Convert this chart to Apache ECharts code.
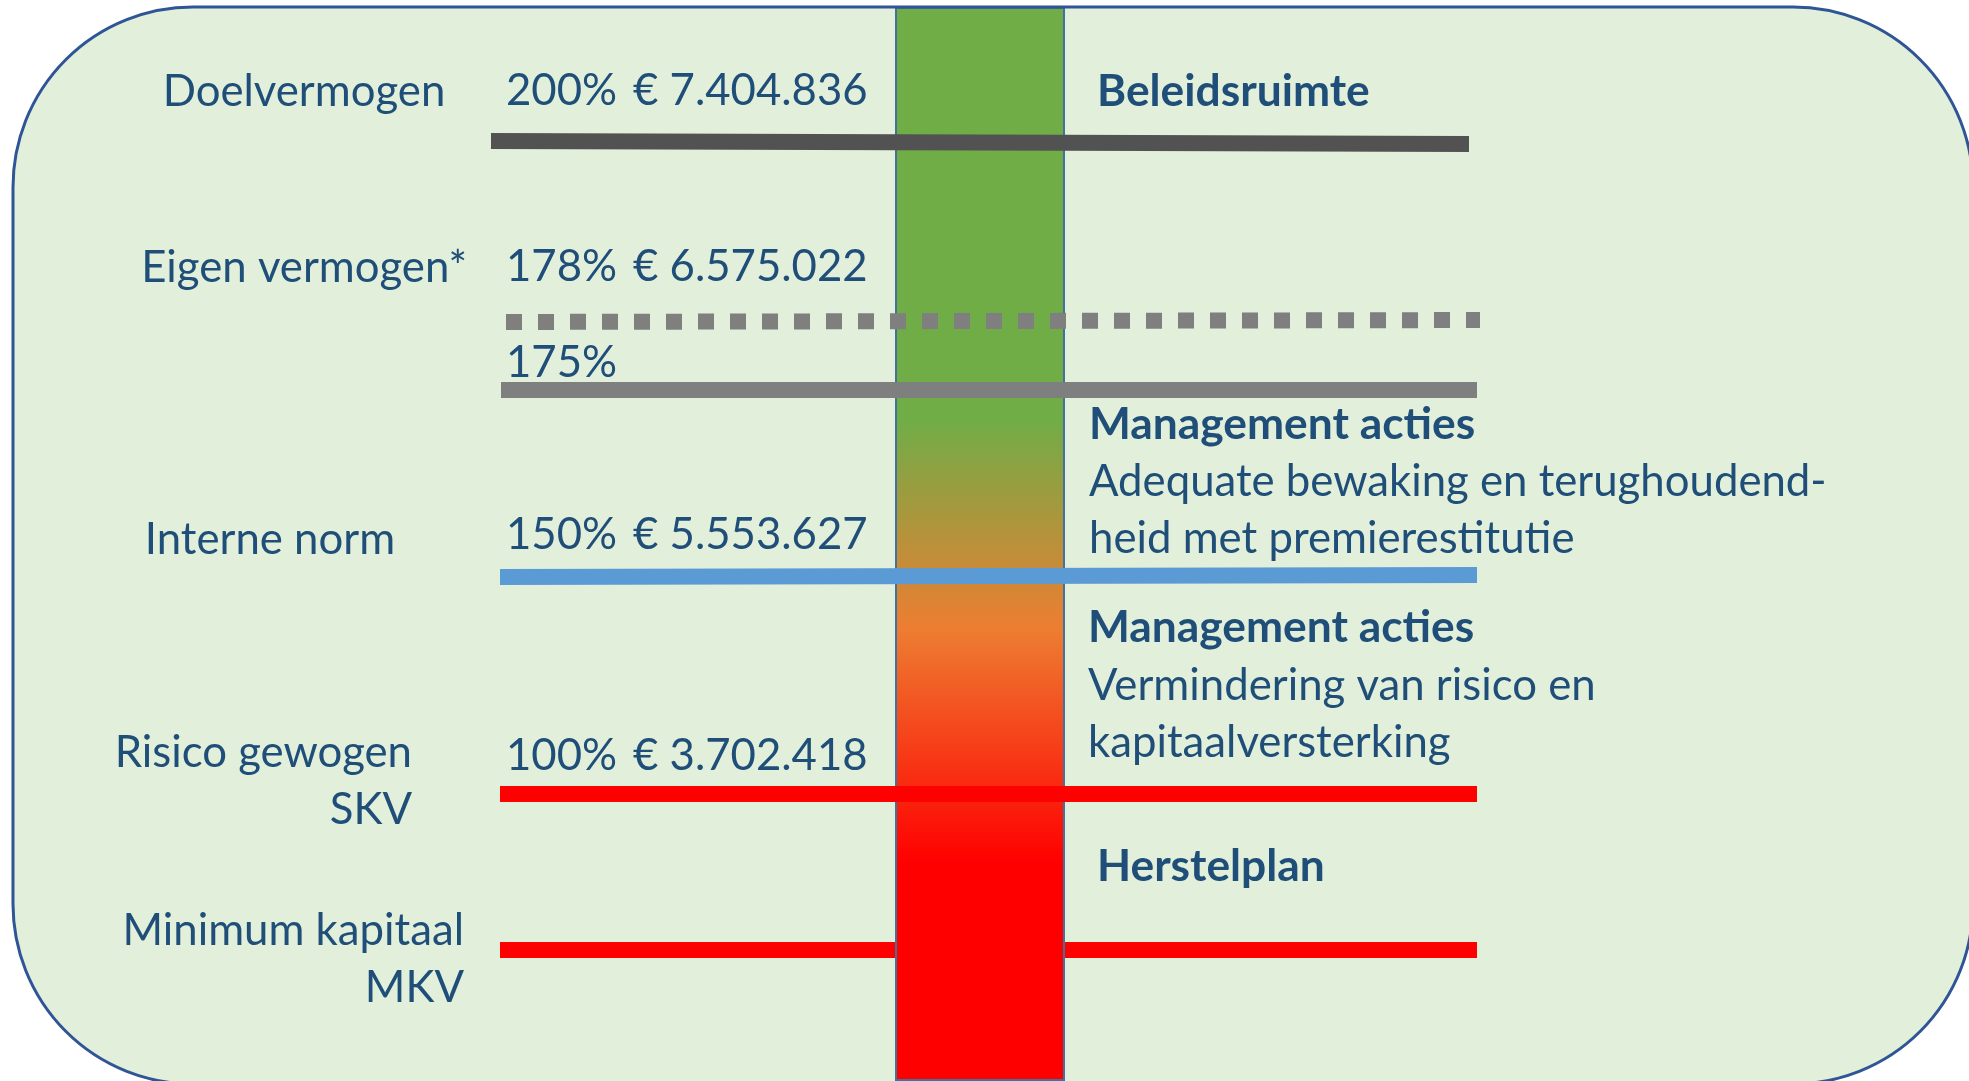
<!DOCTYPE html>
<html>
<head>
<meta charset="utf-8">
<script src="https://cdn.jsdelivr.net/npm/echarts@6/dist/echarts.min.js"></script>
<style>
  html, body { margin: 0; padding: 0; background: #fff; }
  #main { width: 1969px; height: 1081px; }
</style>
</head>
<body>
<div id="main"></div>
<script>
// levels, top to bottom
const levelNames = ['Doelvermogen', 'Eigen vermogen*', '', 'Interne norm', 'Risico gewogen\nSKV', 'Minimum kapitaal\nMKV'];
const levelPct = [200, 178, 175, 150, 100, null];
const levelAmount = ['€ 7.404.836', '€ 6.575.022', '', '€ 5.553.627', '€ 3.702.418', ''];

// zones right of the bar
const zoneTitles = ['Beleidsruimte', 'Management acties', 'Management acties', 'Herstelplan'];
const zoneTexts = ['', 'Adequate bewaking en terughoudend-\nheid met premierestitutie', 'Vermindering van risico en\nkapitaalversterking', ''];

// layout (pixel units of the full page grid)
const levelRow = [141, 322, 390, 577, 794, 950];
const levelRowEnd = [144, 320, 390, 575, 794, 950];
const lineFrom = [491, 506, 501, 500, 500, 500];
const lineTo = [1469, 1480, 1477, 1477, 1477, 1477];
const lineColor = ['#525252', '#7F7F7F', '#7F7F7F', '#5B9BD5', '#FF0000', '#FF0000'];
const lineDash = ['solid', [16, 16], 'solid', 'solid', 'solid', 'solid'];
const nameAnchor = [['center', 304, 92], ['right', 467, 268], null, ['center', 270, 540], ['right', 412, 781], ['right', 464, 959]];
const valueY = [91, 267, 363, 535, 756, null];
const zoneTitlePos = [[1097, 92], [1089, 425], [1088, 628], [1097, 867]];
const zoneTextY = [null, 510, 714, null];

const TEXT = '#1F4E79';
const FONT = 'Lato';

// pick font sizes so the widths match the reference text
const ctx = document.createElement('canvas').getContext('2d');
function fit(samples, weight) {
  let r = 0;
  samples.forEach(([t, w]) => {
    ctx.font = weight + ' 100px ' + FONT;
    r += w / ctx.measureText(t).width;
  });
  return 100 * r / samples.length;
}
const regSize = fit([['Doelvermogen', 283], ['Adequate bewaking en terughoudend-', 749], ['Vermindering van risico en', 514], ['€ 7.404.836', 228]], 'normal');
const boldSize = fit([['Beleidsruimte', 275], ['Management acties', 388], ['Herstelplan', 225]], 'bold');

function txt(x, y, text, align, bold) {
  return {
    type: 'text', x: x, y: y, z: 100, silent: true,
    style: {
      text: text, fill: TEXT, align: align, verticalAlign: 'middle',
      fontFamily: FONT, fontSize: bold ? boldSize : regSize,
      fontWeight: bold ? 'bold' : 'normal', lineHeight: 57
    }
  };
}

const graphics = [
  { type: 'rect', z: -10, silent: true,
    shape: { x: 13, y: 7, width: 1960, height: 1077, r: 180 },
    style: { fill: '#E2EFDA' } },
  { type: 'rect', z: 200, silent: true,
    shape: { x: 13, y: 7, width: 1960, height: 1077, r: 180 },
    style: { fill: null, stroke: '#2F5597', lineWidth: 3 } }
];
levelNames.forEach((n, i) => {
  if (!n) return;
  const a = nameAnchor[i];
  graphics.push(txt(a[1], a[2], n, a[0], false));
});
levelPct.forEach((p, i) => {
  if (p == null) return;
  graphics.push(txt(506, valueY[i], p + '%', 'left', false));
  if (levelAmount[i]) graphics.push(txt(633, valueY[i], levelAmount[i], 'left', false));
});
zoneTitles.forEach((t, i) => {
  graphics.push(txt(zoneTitlePos[i][0], zoneTitlePos[i][1], t, 'left', true));
  if (zoneTexts[i]) graphics.push(txt(zoneTitlePos[i][0], zoneTextY[i], zoneTexts[i], 'left', false));
});

const lineSeries = levelRow.map((y, i) => ({
  type: 'line',
  xAxisIndex: 0, yAxisIndex: 0,
  z: i === levelRow.length - 1 ? 1 : 5,
  silent: true,
  showSymbol: false,
  data: [[lineFrom[i], y], [lineTo[i], levelRowEnd[i]]],
  lineStyle: { width: 16, color: lineColor[i], type: lineDash[i], cap: 'butt' }
}));

const chart = echarts.init(document.getElementById('main'));
chart.setOption({
  animation: false,
  grid: [
    { left: 0, right: 0, top: 0, bottom: 0 },
    { left: 895, width: 170, top: 7, height: 1077 }
  ],
  xAxis: [
    { type: 'value', gridIndex: 0, min: 0, max: 1969, show: false },
    { type: 'category', gridIndex: 1, data: ['zone'], show: false }
  ],
  yAxis: [
    { type: 'value', gridIndex: 0, min: 0, max: 1081, inverse: true, show: false },
    { type: 'value', gridIndex: 1, min: 0, max: 1, show: false }
  ],
  graphic: graphics,
  series: [
    {
      type: 'bar',
      xAxisIndex: 1, yAxisIndex: 1,
      z: 3, silent: true,
      barWidth: '100%',
      data: [1],
      itemStyle: {
        borderColor: '#41719C', borderWidth: 2,
        color: new echarts.graphic.LinearGradient(0, 0, 0, 1, [
          { offset: 0, color: '#70AD47' },
          { offset: 0.384, color: '#70AD47' },
          { offset: 0.579, color: '#ED7D31' },
          { offset: 0.797, color: '#FF0000' },
          { offset: 1, color: '#FF0000' }
        ])
      }
    }
  ].concat(lineSeries)
});
</script>
</body>
</html>
